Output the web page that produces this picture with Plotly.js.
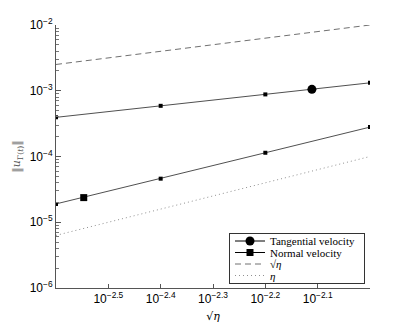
<!DOCTYPE html>
<html><head><meta charset="utf-8">
<script src="https://cdn.plot.ly/plotly-3.0.1.min.js"></script>
<style>html,body{margin:0;padding:0;background:#fff}#c{width:407px;height:327px}</style>
</head><body><div id="c"></div>
<script>
// sqrt(eta) sample points
const sqrtEta = [Math.pow(10,-2.6), Math.pow(10,-2.4), Math.pow(10,-2.2), Math.pow(10,-2.0)];
const tangential = [3.94e-4, 5.9e-4, 8.8e-4, 1.32e-3];
const normal = [1.9e-5, 4.6e-5, 1.14e-4, 2.8e-4];
const refSqrtEta = [2.51e-3, 3.98e-3, 6.31e-3, 1.0e-2];
const refEta = [6.31e-6, 1.58e-5, 3.98e-5, 1.0e-4];
// legend marker positions
const tangMarkX = [Math.pow(10,-2.111)], tangMarkY = [1.05e-3];
const normMarkX = [Math.pow(10,-2.547)], normMarkY = [2.37e-5];
const seriesNames = ['Tangential velocity','Normal velocity','√<i>η</i>','<i>η</i>'];
const xTickVals = [-2.5,-2.4,-2.3,-2.2,-2.1];
const xTickText = ['10<sup>−2.5</sup>','10<sup>−2.4</sup>','10<sup>−2.3</sup>','10<sup>−2.2</sup>','10<sup>−2.1</sup>'];
const yTickVals = [1e-6,1e-5,1e-4,1e-3,1e-2];
const yTickText = ['10<sup>−6</sup>','10<sup>−5</sup>','10<sup>−4</sup>','10<sup>−3</sup>','10<sup>−2</sup>'];

const lineCol = '#505050';
const traces = [
 {x: sqrtEta, y: tangential, mode:'lines+markers', line:{color:lineCol,width:1}, marker:{color:'#000',size:4,symbol:'square'}, showlegend:false},
 {x: sqrtEta, y: normal, mode:'lines+markers', line:{color:lineCol,width:1}, marker:{color:'#000',size:4,symbol:'square'}, showlegend:false},
 {x: tangMarkX, y: tangMarkY, mode:'lines+markers', name:seriesNames[0], line:{color:'#000',width:1}, marker:{color:'#000',size:9,symbol:'circle'}},
 {x: normMarkX, y: normMarkY, mode:'lines+markers', name:seriesNames[1], line:{color:'#000',width:1}, marker:{color:'#000',size:7,symbol:'square'}},
 {x: sqrtEta, y: refSqrtEta, mode:'lines', name:seriesNames[2], line:{color:'#707070',width:1,dash:'6px,4px'}},
 {x: sqrtEta, y: refEta, mode:'lines', name:seriesNames[3], line:{color:'#909090',width:1,dash:'1px,3px'}}
];
const tickFont = {family:'Liberation Sans, Arial, sans-serif', size:12, color:'#000'};
const layout = {
 width:407, height:327,
 margin:{l:56, r:37, t:25, b:39},
 paper_bgcolor:'#fff', plot_bgcolor:'#fff',
 showlegend:true,
 xaxis:{type:'log', range:[-2.6,-2.0], tickvals:xTickVals.map(v=>Math.pow(10,v)), ticktext:xTickText,
   ticks:'inside', ticklen:4, tickcolor:'#555', showgrid:false, zeroline:false, showline:true, linecolor:'#555', linewidth:1,
   tickfont:tickFont, title:{text:'√<i>η</i>', font:{family:'DejaVu Serif, serif', size:11, color:'#000'}, standoff:6}},
 yaxis:{type:'log', range:[-6,-2], tickvals:yTickVals, ticktext:yTickText,
   ticks:'inside', ticklen:5, tickcolor:'#555', showgrid:false, zeroline:false, showline:true, linecolor:'#555', linewidth:1,
   tickfont:tickFont,
   minor:{ticks:'inside', ticklen:2.5, tickcolor:'#777', dtick:'D1', showgrid:false},
   title:{text:'‖<i>u</i><sub>Γ(<i>t</i>)</sub>‖', font:{family:'DejaVu Serif, serif', size:11, color:'#555'}, standoff:6}},
 legend:{x:0.98, xanchor:'right', y:0.02, yanchor:'bottom', bgcolor:'#fff', bordercolor:'#333', borderwidth:1,
   font:{family:'Liberation Serif, DejaVu Serif, serif', size:11, color:'#000'}, tracegroupgap:0, itemwidth:30}
};
Plotly.newPlot('c', traces, layout, {staticPlot:true, displayModeBar:false}).then(function(){
  // compact the legend rows like the reference (MATLAB-style tight legend)
  const lg = document.querySelector('g.legend');
  if (!lg) return;
  lg.setAttribute('transform','translate(229,233)');
  const bg = lg.querySelector('rect.bg');
  if (bg) { bg.setAttribute('width', 135); bg.setAttribute('height', 50); bg.setAttribute('x',0); bg.setAttribute('y',0); }
  const items = lg.querySelectorAll('g.traces');
  items.forEach(function(it, i){ it.setAttribute('transform','translate(1,' + (8 + i*11.5) + ')'); });
  const sb = lg.querySelector('g.scrollbox');
  if (sb) sb.setAttribute('transform','translate(0,0)');
});
</script></body></html>
